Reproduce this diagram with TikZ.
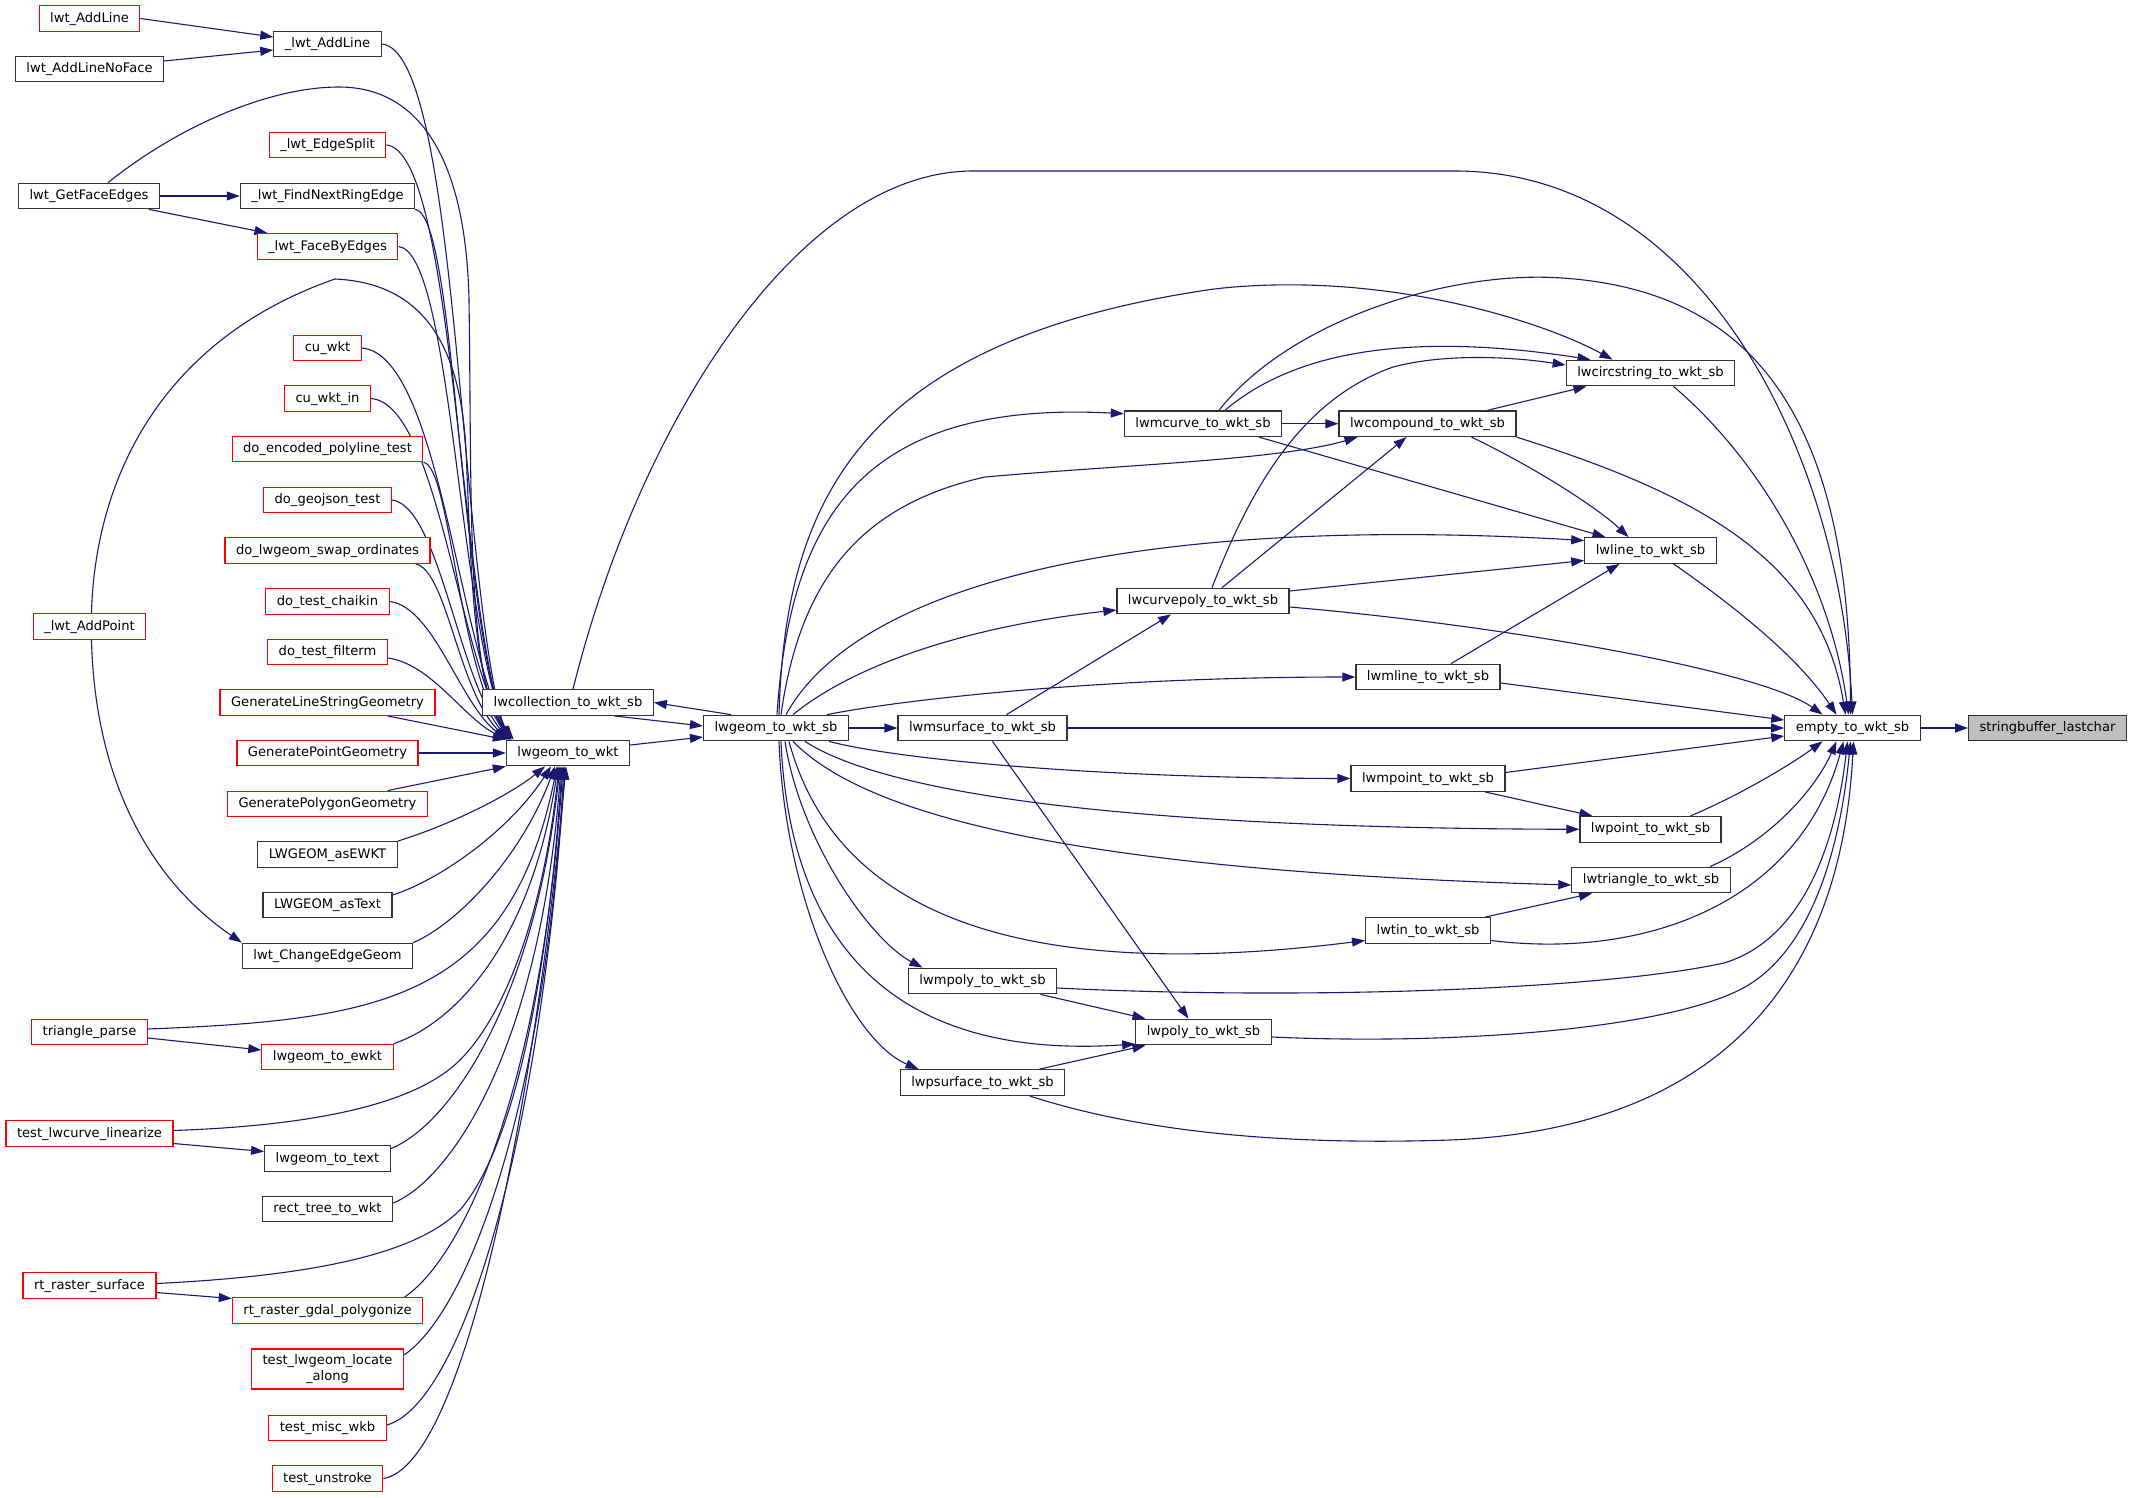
\documentclass[tikz,border=0pt]{standalone}
\usepackage{fontspec}
\newfontfamily\fnfont{DejaVu Sans}
\usetikzlibrary{arrows.meta,backgrounds}
\definecolor{callblue}{RGB}{25,25,112}
\definecolor{rootgray}{RGB}{191,191,191}

\begin{document}
\begin{tikzpicture}[x=1pt,y=-1pt,
  fn/.style={draw=black!80,line width=1.2pt,fill=white,
    font=\fnfont\fontsize{13.1}{15.6}\selectfont,
    minimum height=25.6pt,inner xsep=11pt,inner ysep=2pt,
    text height=10pt,text depth=3pt},
  fnred/.style={fn,draw=red},
  fnroot/.style={fn,fill=rootgray},
  call/.style={draw=callblue,line width=1.1pt,-{Triangle[length=13pt,width=9pt]}}]

\useasboundingbox (0,0) rectangle (2131,1497);

\node[fnred] (lwtAddLine) at (89.5,18.5) {lwt\_AddLine};
\node[fn] (lwtAddLineNoFace) at (89.5,69) {lwt\_AddLineNoFace};
\node[fn] (lwtGetFaceEdges) at (89,196) {lwt\_GetFaceEdges};
\node[fnred] (lwtAddPoint) at (89.5,626.5) {\_lwt\_AddPoint};
\node[fnred] (triangleParse) at (89.5,1032) {triangle\_parse};
\node[fnred] (testLwcurveLinearize) at (89.5,1133.5) {test\_lwcurve\_linearize};
\node[fnred] (rtRasterSurface) at (89.5,1285.5) {rt\_raster\_surface};

\node[fn] (addLine) at (327.5,44) {\_lwt\_AddLine};
\node[fnred] (edgeSplit) at (327.5,145) {\_lwt\_EdgeSplit};
\node[fn] (findNextRingEdge) at (327.5,196) {\_lwt\_FindNextRingEdge};
\node[fnred] (faceByEdges) at (327.5,246.5) {\_lwt\_FaceByEdges};
\node[fnred] (cuWkt) at (327.5,348) {cu\_wkt};
\node[fnred] (cuWktIn) at (327.5,398.5) {cu\_wkt\_in};
\node[fnred] (doEncoded) at (327.5,449) {do\_encoded\_polyline\_test};
\node[fnred] (doGeojson) at (327.5,500) {do\_geojson\_test};
\node[fnred] (doSwap) at (327.5,550.5) {do\_lwgeom\_swap\_ordinates};
\node[fnred] (doChaikin) at (327.5,601.5) {do\_test\_chaikin};
\node[fnred] (doFilterm) at (327.5,652) {do\_test\_filterm};
\node[fnred] (genLine) at (327.5,702.5) {GenerateLineStringGeometry};
\node[fnred] (genPoint) at (327.5,753) {GeneratePointGeometry};
\node[fnred] (genPolygon) at (327.5,804) {GeneratePolygonGeometry};
\node[fn] (asEWKT) at (327.5,854.5) {LWGEOM\_asEWKT};
\node[fn] (asText) at (327.5,905) {LWGEOM\_asText};
\node[fn] (changeEdgeGeom) at (327.5,956) {lwt\_ChangeEdgeGeom};
\node[fnred] (toEwkt) at (327.5,1057) {lwgeom\_to\_ewkt};
\node[fn] (toText) at (327.5,1158.5) {lwgeom\_to\_text};
\node[fn] (rectTree) at (327.5,1209) {rect\_tree\_to\_wkt};
\node[fnred] (gdalPolygonize) at (327.5,1310.5) {rt\_raster\_gdal\_polygonize};
\node[fnred,align=center,text height={},text depth={},minimum height=40pt] (locateAlong) at (327.5,1369) {test\_lwgeom\_locate\\\_along};
\node[fnred] (miscWkb) at (327.5,1428) {test\_misc\_wkb};
\node[fnred] (unstroke) at (327.5,1478.5) {test\_unstroke};

\node[fn] (collectionSb) at (568,702.5) {lwcollection\_to\_wkt\_sb};
\node[fn] (geomWkt) at (568,753) {lwgeom\_to\_wkt};
\node[fn] (geomSb) at (776,728) {lwgeom\_to\_wkt\_sb};
\node[fn] (msurfaceSb) at (982.5,728) {lwmsurface\_to\_wkt\_sb};
\node[fn] (mpolySb) at (982.5,981) {lwmpoly\_to\_wkt\_sb};
\node[fn] (psurfaceSb) at (982.5,1082.5) {lwpsurface\_to\_wkt\_sb};
\node[fn] (mcurveSb) at (1203,423.7) {lwmcurve\_to\_wkt\_sb};
\node[fn] (curvepolySb) at (1203,601) {lwcurvepoly\_to\_wkt\_sb};
\node[fn] (polySb) at (1203.5,1032) {lwpoly\_to\_wkt\_sb};
\node[fn] (compoundSb) at (1427.5,423.7) {lwcompound\_to\_wkt\_sb};
\node[fn] (mlineSb) at (1428,677) {lwmline\_to\_wkt\_sb};
\node[fn] (mpointSb) at (1428,778.5) {lwmpoint\_to\_wkt\_sb};
\node[fn] (tinSb) at (1428,930.5) {lwtin\_to\_wkt\_sb};
\node[fn] (circstringSb) at (1650.5,373) {lwcircstring\_to\_wkt\_sb};
\node[fn] (lineSb) at (1650.5,550.5) {lwline\_to\_wkt\_sb};
\node[fn] (pointSb) at (1650.5,829.3) {lwpoint\_to\_wkt\_sb};
\node[fn] (triangleSb) at (1651,880) {lwtriangle\_to\_wkt\_sb};
\node[fn] (emptySb) at (1852.5,728) {empty\_to\_wkt\_sb};
\node[fnroot] (lastchar) at (2047.5,728) {stringbuffer\_lastchar};

\begin{scope}[on background layer]
\draw[call] (lwtAddLine.east) -- ([yshift=7]addLine.west);
\draw[call] ([yshift=8]lwtAddLineNoFace.east) -- ([yshift=-6]addLine.west);
\draw[call] (lwtGetFaceEdges.east) -- (findNextRingEdge.west);
\draw[call] ([xshift=60]lwtGetFaceEdges.south) -- ([xshift=-60]faceByEdges.north);
\draw[call] ([xshift=2]lwtAddPoint.south) .. controls (95,780) and (150,880) .. (changeEdgeGeom.north west);
\draw[call] ([yshift=-6]triangleParse.east) -- ([yshift=7]toEwkt.west);
\draw[call] ([yshift=-10]testLwcurveLinearize.east) -- ([yshift=7]toText.west);
\draw[call] ([yshift=-7]rtRasterSurface.east) -- ([yshift=12]gdalPolygonize.west);

\draw[call] (addLine.east) .. controls (458,50) and (458,564) .. ([xshift=1]geomWkt.north west);
\draw[call] ([xshift=19]lwtGetFaceEdges.north) .. controls (180,125) and (270,87) .. (339,87) .. controls (420,87) and (466,160) .. (469,300) .. controls (472,500) and (466,680) .. ([xshift=6]geomWkt.north west);
\draw[call] (edgeSplit.east) .. controls (454,151) and (458,590) .. ([xshift=2]geomWkt.north west);
\draw[call] (findNextRingEdge.south east) .. controls (456,215) and (458,602) .. ([xshift=3]geomWkt.north west);
\draw[call] (faceByEdges.east) .. controls (452,252) and (458,615) .. ([xshift=4]geomWkt.north west);
\draw[call] ([xshift=2]lwtAddPoint.north) .. controls (95,480) and (160,340) .. (335,279) .. controls (420,283) and (460,340) .. (466,450) .. controls (471,560) and (472,690) .. ([xshift=8]geomWkt.north west);
\draw[call] (cuWkt.east) .. controls (438,354) and (458,640) .. ([xshift=5]geomWkt.north west);
\draw[call] (cuWktIn.east) .. controls (437,404) and (458,653) .. ([xshift=5]geomWkt.north west);
\draw[call] (doEncoded.south east) .. controls (450,465) and (458,666) .. ([xshift=4]geomWkt.north west);
\draw[call] (doGeojson.east) .. controls (439,506) and (458,678) .. ([xshift=3]geomWkt.north west);
\draw[call] ([xshift=88]doSwap.south) .. controls (447,570) and (458,691) .. ([xshift=2]geomWkt.north west);
\draw[call] (doChaikin.east) .. controls (434,607) and (460,704) .. ([xshift=1]geomWkt.north west);
\draw[call] ([yshift=-6]doFilterm.east) .. controls (431,664) and (462,716) .. (geomWkt.north west);
\draw[call] ([xshift=60]genLine.south) -- (geomWkt.north west);
\draw[call] (genPoint.east) -- (geomWkt.west);
\draw[call] ([xshift=60]genPolygon.north) -- (geomWkt.south west);

\draw[call] (asEWKT.north east) .. controls (450,825) and (510,795) .. ([xshift=-23]geomWkt.south);
\draw[call] ([yshift=10]asText.east) .. controls (440,880) and (510,830) .. ([xshift=-17]geomWkt.south);
\draw[call] (changeEdgeGeom.north east) .. controls (455,925) and (520,860) .. ([xshift=-13]geomWkt.south);
\draw[call] ([yshift=3]triangleParse.east) .. controls (380,1020) and (510,1000) .. ([xshift=-11]geomWkt.south);
\draw[call] (toEwkt.north east) .. controls (450,1025) and (530,950) .. ([xshift=-10]geomWkt.south);
\draw[call] ([yshift=3]testLwcurveLinearize.east) .. controls (330,1125) and (420,1100) .. (460,1060) .. controls (510,1010) and (545,900) .. ([xshift=-9]geomWkt.south);
\draw[call] ([yshift=10]toText.east) .. controls (450,1125) and (535,1000) .. ([xshift=-8]geomWkt.south);
\draw[call] ([yshift=6]rectTree.east) .. controls (450,1180) and (540,1050) .. ([xshift=-7]geomWkt.south);
\draw[call] ([yshift=2]rtRasterSurface.east) .. controls (330,1275) and (420,1250) .. (460,1210) .. controls (520,1140) and (550,950) .. ([xshift=-6]geomWkt.south);
\draw[call] ([xshift=77]gdalPolygonize.north) .. controls (460,1260) and (540,1100) .. ([xshift=-5]geomWkt.south);
\draw[call] ([yshift=14]locateAlong.east) .. controls (470,1310) and (545,1100) .. ([xshift=-4]geomWkt.south);
\draw[call] ([yshift=3]miscWkb.east) .. controls (460,1405) and (540,1150) .. ([xshift=-3]geomWkt.south);
\draw[call] (unstroke.east) .. controls (465,1465) and (535,1100) .. ([xshift=-2]geomWkt.south);

\draw[call] ([xshift=-45]geomSb.north) -- (collectionSb.east);
\draw[call] ([xshift=46]collectionSb.south) -- ([yshift=2]geomSb.west);
\draw[call] ([yshift=8]geomWkt.east) -- ([yshift=-9]geomSb.west);
\draw[call] ([xshift=5]collectionSb.north) .. controls (640,420) and (800,171) .. (973,171) -- (1455,171) .. controls (1700,171) and (1840,450) .. (emptySb.north);
\draw[call] (geomSb.east) -- (msurfaceSb.west);
\draw[call] ([xshift=3]geomSb.north) .. controls (785,500) and (860,340) .. (1214,289) .. controls (1380,270) and (1540,320) .. ([xshift=-38]circstringSb.north);
\draw[call] ([xshift=1]geomSb.north) .. controls (790,520) and (860,400) .. ([yshift=10]mcurveSb.west);
\draw[call] ([xshift=5]geomSb.north) .. controls (800,580) and (860,505) .. (985,477) .. controls (1120,465) and (1280,460) .. ([xshift=-70]compoundSb.south);
\draw[call] ([xshift=10]geomSb.north) .. controls (860,580) and (1150,515) .. ([yshift=10]lineSb.west);
\draw[call] ([xshift=17]geomSb.north) .. controls (860,660) and (980,625) .. ([yshift=-9]curvepolySb.west);
\draw[call] ([xshift=51]geomSb.north) .. controls (900,700) and (1100,677) .. (mlineSb.west);
\draw[call] ([xshift=53]geomSb.south) .. controls (900,760) and (1100,778) .. (mpointSb.west);
\draw[call] ([xshift=29]geomSb.south) .. controls (880,790) and (1100,828) .. (pointSb.west);
\draw[call] ([xshift=17]geomSb.south) .. controls (860,810) and (1050,870) .. ([yshift=-5]triangleSb.west);
\draw[call] ([xshift=13]geomSb.south) .. controls (840,930) and (1050,980) .. ([yshift=-10]tinSb.west);
\draw[call] ([xshift=9]geomSb.south) .. controls (800,840) and (870,940) .. ([xshift=-60]mpolySb.north);
\draw[call] ([xshift=5]geomSb.south) .. controls (790,950) and (900,1060) .. ([yshift=-12]polySb.west);
\draw[call] ([xshift=3]geomSb.south) .. controls (785,900) and (850,1040) .. ([xshift=-64]psurfaceSb.north);

\draw[call] ([xshift=58]mpolySb.south) -- ([xshift=-58]polySb.north);
\draw[call] ([xshift=57]psurfaceSb.north) -- ([xshift=-58]polySb.south);
\draw[call] ([xshift=10]msurfaceSb.south) -- ([xshift=-15]polySb.north);
\draw[call] ([xshift=24]msurfaceSb.north) -- ([xshift=-32]curvepolySb.south);
\draw[call] (mcurveSb.east) -- (compoundSb.west);
\draw[call] ([xshift=22]mcurveSb.north) .. controls (1290,355) and (1400,330) .. ([xshift=-60]circstringSb.north);
\draw[call] ([xshift=9]curvepolySb.north) .. controls (1250,490) and (1300,400) .. (1393,367) .. controls (1450,352) and (1520,358) .. ([yshift=8]circstringSb.west);
\draw[call] ([xshift=19]curvepolySb.north) -- ([xshift=-21]compoundSb.south);
\draw[call] ([xshift=60]compoundSb.north) -- ([xshift=-64]circstringSb.south);
\draw[call] ([xshift=56]mcurveSb.south) -- ([xshift=-45]lineSb.north);
\draw[call] ([xshift=44]compoundSb.south) .. controls (1540,470) and (1600,510) .. ([xshift=-22]lineSb.north);
\draw[call] ([yshift=10]curvepolySb.east) -- ([yshift=-10]lineSb.west);
\draw[call] ([xshift=23]mlineSb.north) -- ([xshift=-31]lineSb.south);
\draw[call] ([xshift=57]mpointSb.south) -- ([xshift=-58]pointSb.north);
\draw[call] ([xshift=57]tinSb.north) -- ([xshift=-59]triangleSb.south);

\draw[call] ([xshift=16]mcurveSb.north) .. controls (1290,320) and (1450,270) .. (1562,278) .. controls (1740,290) and (1850,400) .. ([xshift=-2]emptySb.north);
\draw[call] ([xshift=23]circstringSb.south) .. controls (1760,460) and (1830,580) .. ([xshift=-4]emptySb.north);
\draw[call] (compoundSb.south east) .. controls (1700,495) and (1820,560) .. ([xshift=-7]emptySb.north);
\draw[call] ([xshift=23]lineSb.south) .. controls (1740,610) and (1800,660) .. ([xshift=-16]emptySb.north);
\draw[call] ([yshift=-6]curvepolySb.east) .. controls (1500,625) and (1760,670) .. ([xshift=-30]emptySb.north);
\draw[call] ([yshift=-6]mlineSb.east) -- ([yshift=8]emptySb.west);
\draw[call] (msurfaceSb.east) -- (emptySb.west);
\draw[call] ([yshift=6]mpointSb.east) -- ([yshift=-8]emptySb.west);
\draw[call] ([xshift=40]pointSb.north) .. controls (1740,795) and (1790,765) .. ([xshift=-30]emptySb.south);
\draw[call] ([xshift=59]triangleSb.north) .. controls (1770,840) and (1815,790) .. ([xshift=-16]emptySb.south);
\draw[call] ([yshift=-10]tinSb.east) .. controls (1650,960) and (1800,900) .. ([xshift=-9]emptySb.south);
\draw[call] ([yshift=-7]mpolySb.east) .. controls (1300,1000) and (1600,990) .. (1724,963) .. controls (1800,940) and (1835,850) .. ([xshift=-5]emptySb.south);
\draw[call] ([yshift=-5]polySb.east) .. controls (1450,1045) and (1650,1030) .. (1733,993) .. controls (1810,960) and (1840,850) .. ([xshift=-2]emptySb.south);
\draw[call] ([xshift=47]psurfaceSb.south) .. controls (1150,1135) and (1300,1145) .. (1450,1140) .. controls (1700,1130) and (1840,1000) .. ([xshift=1]emptySb.south);
\draw[call] (emptySb.east) -- (lastchar.west);
\end{scope}
\end{tikzpicture}
\end{document}
